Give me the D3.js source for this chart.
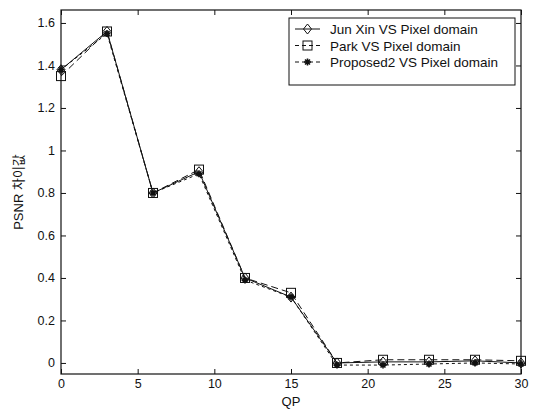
<!DOCTYPE html>
<html>
<head>
<meta charset="utf-8">
<script src="https://cdn.jsdelivr.net/npm/d3@7"></script>
<style>
  body { margin: 0; background: #fff; }
  text { font-family: "Liberation Sans", Arial, sans-serif; fill: #111; }
</style>
</head>
<body>
<svg id="chart" width="536" height="409"></svg>
<script>
// QP values on x axis
let qp = [0, 3, 6, 9, 12, 15, 18, 21, 24, 27, 30]

let junXin = [1.38, 1.56, 0.80, 0.90, 0.40, 0.31, 0.00, 0.005, 0.005, 0.01, 0.00]
let park = [1.35, 1.56, 0.80, 0.91, 0.40, 0.33, 0.00, 0.015, 0.015, 0.015, 0.01]
let proposed2 = [1.38, 1.55, 0.80, 0.89, 0.39, 0.31, -0.01, -0.01, -0.005, 0.00, -0.005]

let xTicks = [0, 5, 10, 15, 20, 25, 30]
let yTicks = [0, 0.2, 0.4, 0.6, 0.8, 1, 1.2, 1.4, 1.6]

let seriesNames = ["Jun Xin VS Pixel domain", "Park VS Pixel domain", "Proposed2 VS Pixel domain"]
let seriesData = [junXin, park, proposed2]

let plotLeft = 61, plotRight = 521, plotTop = 10, plotBottom = 374

let svg = d3.select("#chart")

let x = d3.scaleLinear().domain([0, 30]).range([plotLeft, plotRight])
let y = d3.scaleLinear().domain([-0.052, 1.661]).range([plotBottom, plotTop])

let styles = [
    {dash: null, marker: "diamond"},
    {dash: "7,4", marker: "square"},
    {dash: "3,3", marker: "star"}
]

function drawMarker(g, type, cx, cy) {
    if (type == "diamond") {
        g.append("path")
            .attr("d", `M${cx},${cy-5}L${cx+4},${cy}L${cx},${cy+5}L${cx-4},${cy}Z`)
            .attr("fill", "none").attr("stroke", "#111").attr("stroke-width", 1)
    } else if (type == "square") {
        g.append("rect")
            .attr("x", cx - 4.5).attr("y", cy - 4.5)
            .attr("width", 9).attr("height", 9)
            .attr("fill", "none").attr("stroke", "#111").attr("stroke-width", 1)
    } else {
        let p = ""
        for (let k = 0; k < 4; k++) {
            let a = k * Math.PI / 4
            let dx = 3.5 * Math.cos(a), dy = 3.5 * Math.sin(a)
            p += `M${cx-dx},${cy-dy}L${cx+dx},${cy+dy}`
        }
        g.append("path").attr("d", p)
            .attr("stroke", "#111").attr("stroke-width", 1.6)
    }
}

// box
svg.append("rect")
    .attr("x", plotLeft).attr("y", plotTop)
    .attr("width", plotRight - plotLeft).attr("height", plotBottom - plotTop)
    .attr("fill", "none").attr("stroke", "#111").attr("stroke-width", 1.2)

// axes with inward ticks
let xAxis = d3.axisBottom(x).tickValues(xTicks).tickSize(-5).tickPadding(5).tickFormat(d3.format("d"))
let yAxis = d3.axisLeft(y).tickValues(yTicks).tickSize(-5).tickPadding(6).tickFormat(d => d)

let gx = svg.append("g").attr("transform", "translate(0," + plotBottom + ")").call(xAxis)
let gy = svg.append("g").attr("transform", "translate(" + plotLeft + ",0)").call(yAxis)
let gxTop = svg.append("g").attr("transform", "translate(0," + plotTop + ")")
    .call(d3.axisTop(x).tickValues(xTicks).tickSize(-5).tickFormat(""))
let gyRight = svg.append("g").attr("transform", "translate(" + plotRight + ",0)")
    .call(d3.axisRight(y).tickValues(yTicks).tickSize(-5).tickFormat(""))

;[gx, gy, gxTop, gyRight].forEach(g => {
    g.select(".domain").remove()
    g.selectAll("line").attr("stroke", "#111")
    g.selectAll("text").style("font-size", "12.5px").attr("fill", "#111")
        .style("font-family", "Liberation Sans, Arial, sans-serif")
})

// lines
let line = d3.line().x((d, i) => x(qp[i])).y(d => y(d))

seriesData.forEach(function(data, s) {
    svg.append("path")
        .datum(data)
        .attr("d", line)
        .attr("fill", "none")
        .attr("stroke", "#111")
        .attr("stroke-width", 1)
        .attr("stroke-dasharray", styles[s].dash)
    let g = svg.append("g")
    data.forEach((d, i) => drawMarker(g, styles[s].marker, x(qp[i]), y(d)))
})

// labels
svg.append("text")
    .attr("x", (plotLeft + plotRight) / 2).attr("y", 406)
    .attr("text-anchor", "middle")
    .style("font-size", "13px")
    .text("QP")

svg.append("text")
    .attr("transform", "translate(23," + ((plotTop + plotBottom) / 2) + ") rotate(-90)")
    .attr("text-anchor", "middle")
    .style("font-size", "13px")
    .style("font-family", "Liberation Sans, 'Noto Sans CJK KR', sans-serif")
    .text("PSNR 차이값")

// legend
let lg = svg.append("g")
lg.append("rect")
    .attr("x", 289).attr("y", 18).attr("width", 226).attr("height", 67)
    .attr("fill", "#fff").attr("stroke", "#111").attr("stroke-width", 1)

seriesNames.forEach(function(name, s) {
    let ly = 29 + s * 16.5
    lg.append("line")
        .attr("x1", 295).attr("x2", 320).attr("y1", ly).attr("y2", ly)
        .attr("stroke", "#111").attr("stroke-width", 1)
        .attr("stroke-dasharray", styles[s].dash ? "4,3" : null)
    drawMarker(lg, styles[s].marker, 307.5, ly)
    lg.append("text")
        .attr("x", 330).attr("y", ly + 5)
        .style("font-size", "13.5px")
        .text(name)
})
</script>
</body>
</html>
